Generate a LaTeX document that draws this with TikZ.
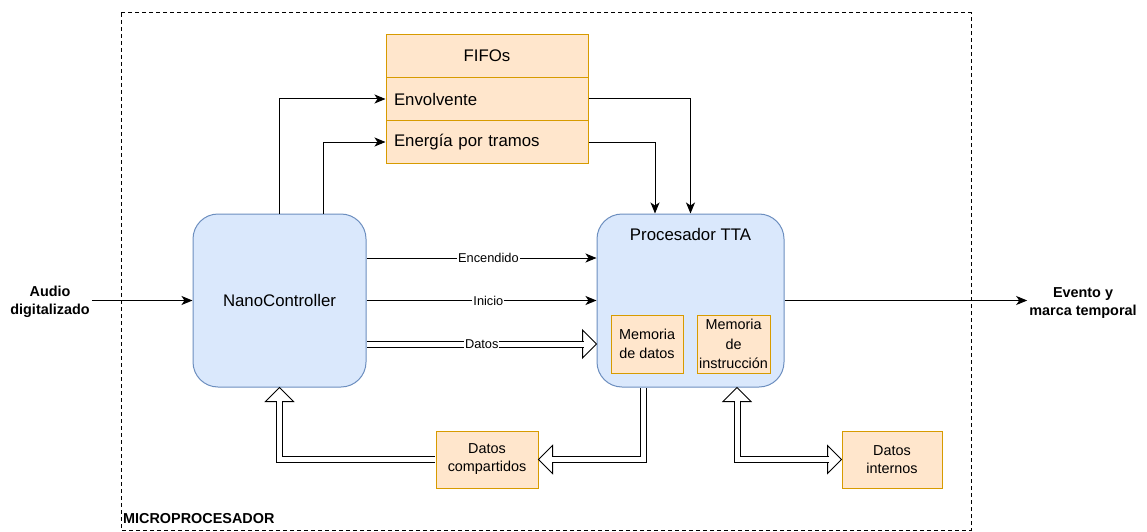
\documentclass[tikz,border=0pt]{standalone}
\usepackage{fontspec}
\setmainfont{Liberation Sans}
\usetikzlibrary{arrows.meta,calc}
\definecolor{bluefill}{HTML}{DAE8FC}
\definecolor{blueline}{HTML}{6C8EBF}
\definecolor{orangefill}{HTML}{FFE6CC}
\definecolor{orangeline}{HTML}{D79B00}
\tikzset{
  unit/.style={draw=blueline, fill=bluefill, line width=1pt, rounded corners=25pt,
    minimum height=173pt, font=\fontsize{16.8}{20}\selectfont},
  store/.style={draw=orangeline, fill=orangefill, line width=1pt, align=center, inner sep=1pt},
  fiforow/.style={store, minimum width=202pt, minimum height=43pt, font=\fontsize{16.8}{20}\selectfont},
  sig/.style={line width=1pt, -{Stealth[length=11pt,width=9pt,inset=3pt]}},
  siglabel/.style={fill=white, inner sep=1pt, font=\fontsize{12.8}{15}\selectfont},
  bus/.style={line width=1pt, double=white, double distance=5pt},
  bushead/.style={draw, fill=white, line width=1pt},
  outside/.style={align=center, inner sep=2pt, font=\bfseries\fontsize{14.4}{17.5}\selectfont}
}
\newcommand{\bustip}[2]{\draw[bushead, shift={(#1)}, rotate=#2] (0,0) -- (-14,14) -- (-14,-14) -- cycle;}

\begin{document}
\begin{tikzpicture}[x=1pt, y=-1pt]
  \useasboundingbox (0,0) rectangle (1147,532);
  \draw[line width=1pt, dash pattern=on 4pt off 3pt] (121,13) rectangle (971,530);
  \node[anchor=base west, inner sep=0pt, font=\bfseries\fontsize{14.4}{17}\selectfont] (micro) at (123,523) {MICROPROCESADOR};

  \node[unit, minimum width=173pt] (nano) at (279.5,300.5) {NanoController};
  \node[unit, minimum width=187pt] (tta) at (690.5,300.5) {};
  \node[inner sep=0pt, font=\fontsize{16.8}{20}\selectfont] (ttaname) at ($(tta.north)+(0,21)$) {Procesador TTA};

  \node[fiforow] (fifos) at (487,56) {FIFOs};
  \node[fiforow, text width=186pt, align=left, inner xsep=8pt] (env) at (487,99) {Envolvente};
  \node[fiforow, text width=186pt, align=left, inner xsep=8pt] (energia) at (487,142) {Energía por tramos};

  \node[store, minimum width=72pt, minimum height=58pt, font=\fontsize{14.4}{19.5}\selectfont] (memdatos) at (647,344) {Memoria\\de datos};
  \node[store, minimum width=73pt, minimum height=58pt, font=\fontsize{14.4}{19.5}\selectfont] (meminstr) at (733.5,344) {Memoria\\de\\instrucción};
  \node[store, minimum width=102pt, minimum height=57pt, font=\fontsize{14.4}{18}\selectfont] (compartidos) at (487,459.5) {Datos\\compartidos};
  \node[store, minimum width=100pt, minimum height=57pt, font=\fontsize{14.4}{18}\selectfont] (internos) at (892,459.5) {Datos\\internos};

  \node[outside] (audio) at (50,302) {Audio\\digitalizado};
  \node[outside] (evento) at (1083,303) {Evento y\\marca temporal};

  \draw[sig] (audio.east |- nano.west) -- (nano.west);
  \draw[sig] (tta.east) -- (tta.east -| evento.west);

  \draw[sig] ($(nano.east)+(0,-42.5)$) -- node[siglabel, pos=0.53] {Encendido} ($(tta.west)+(0,-42.5)$);
  \draw[sig] (nano.east) -- node[siglabel, pos=0.53] {Inicio} (tta.west);
  \bustip{$(tta.west)+(0,43.5)$}{0}
  \draw[bus] ($(nano.east)+(0.5,43.5)$) -- node[siglabel, pos=0.53] {Datos} ($(tta.west)+(-13,43.5)$);

  \draw[sig] (nano.north) |- (env.west);
  \draw[sig] ($(nano.north)+(43.5,0)$) |- (energia.west);
  \draw[sig] (env.east) -| (tta.north);
  \draw[sig] (energia.east) -| ($(tta.north)+(-35.5,0)$);

  \bustip{$(nano.south)$}{90}
  \draw[bus] ($(compartidos.west)+(-0.5,0)$) -| ($(nano.south)+(0,13)$);
  \bustip{$(compartidos.east)$}{180}
  \draw[bus] ($(tta.south)+(-47,0.5)$) |- ($(compartidos.east)+(13,0)$);
  \bustip{$(tta.south)+(46.5,0)$}{90}
  \bustip{$(internos.west)$}{0}
  \draw[bus] ($(tta.south)+(46.5,13)$) |- ($(internos.west)+(-13,0)$);
\end{tikzpicture}
\end{document}
